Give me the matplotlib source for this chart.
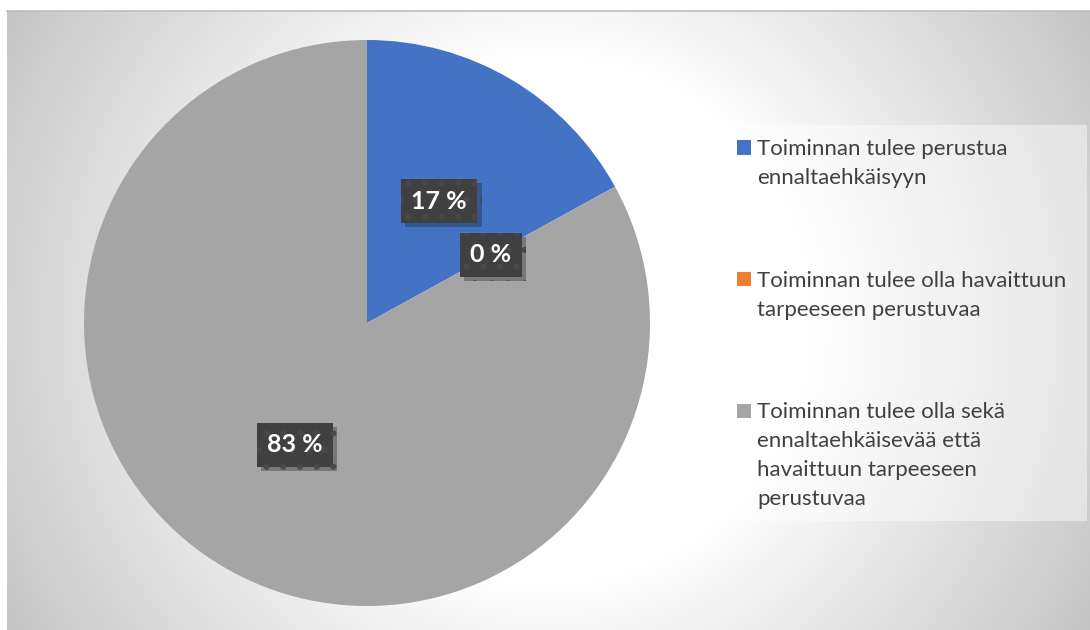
import numpy as np
import matplotlib
matplotlib.use("Agg")
import matplotlib.pyplot as plt
from matplotlib.patches import Rectangle
import matplotlib.patheffects as pe

plt.rcParams['font.family'] = ['Lato', 'DejaVu Sans']

# data
labels = ["Toiminnan tulee perustua\nennaltaehkäisyyn",
          "Toiminnan tulee olla havaittuun\ntarpeeseen perustuvaa",
          "Toiminnan tulee olla sekä\nennaltaehkäisevää että\nhavaittuun tarpeeseen\nperustuvaa"]
values = [17, 0, 83]
colors = ["#4472C4", "#ED7D31", "#A5A5A5"]

W, H = 1090, 630
fig = plt.figure(figsize=(W / 100, H / 100), dpi=100)

def fx(x):
    return x / W

def fy(y):
    return 1 - y / H

# background radial gradient
bg = fig.add_axes([fx(7), 0, 1 - fx(7), 1 - 11 / H])
xx, yy = np.meshgrid(np.arange(7, W), np.arange(11, H))
r = np.hypot(xx - 548, yy - 320)
g = 255 - 0.16 * np.clip(r - 260, 0, None)
g = np.clip(g, 196, 255) / 255
img = np.dstack([g, g, g])
bg.imshow(img, aspect='auto', extent=[0, 1, 0, 1])
bg.axis('off')
fig.add_artist(plt.Line2D([fx(7), 1], [fy(11), fy(11)], color='#bdbdbd', lw=1.2))

# pie
cx, cy, rad = 367, 323, 283
ax = fig.add_axes([fx(cx - rad), fy(cy + rad), 2 * rad / W, 2 * rad / H])
wedges, texts = ax.pie(values, colors=colors, startangle=90, counterclock=False,
                       radius=1, wedgeprops=dict(linewidth=0))
ax.set_xlim(-1, 1)
ax.set_ylim(-1, 1)
ax.axis('off')

# data labels
plt.rcParams['hatch.linewidth'] = 2.0
theta0 = 90
for v in values:
    mid = np.deg2rad(theta0 - v * 3.6 / 2)
    t = ax.text(0.5 * np.cos(mid), 0.5 * np.sin(mid), f"{v} %", ha='center', va='center',
                color='white', fontsize=18, fontweight='bold',
                bbox=dict(boxstyle='square,pad=0.42', facecolor='#404040',
                          edgecolor='#484848', linewidth=0, hatch='.'))
    t.get_bbox_patch().set_path_effects([pe.SimplePatchShadow(offset=(3, -3), alpha=0.3),
                                         pe.Normal()])
    theta0 -= v * 3.6

# legend box
fig.add_artist(Rectangle((fx(725), fy(521)), fx(1087 - 725), (521 - 125) / H,
                         transform=fig.transFigure, facecolor='white', alpha=0.45,
                         edgecolor='none'))
first_base = [155, 287, 418]
for lab, col, yb in zip(labels, colors, first_base):
    fig.add_artist(Rectangle((fx(737), fy(yb - 0.5)), fx(14), 14 / H,
                             transform=fig.transFigure, facecolor=col, edgecolor='none'))
    for i, line in enumerate(lab.split("\n")):
        fig.text(fx(757), fy(yb + 29 * i), line, ha='left', va='baseline',
                 fontsize=16, color='#404040')

fig.savefig("out.png", dpi=100)
